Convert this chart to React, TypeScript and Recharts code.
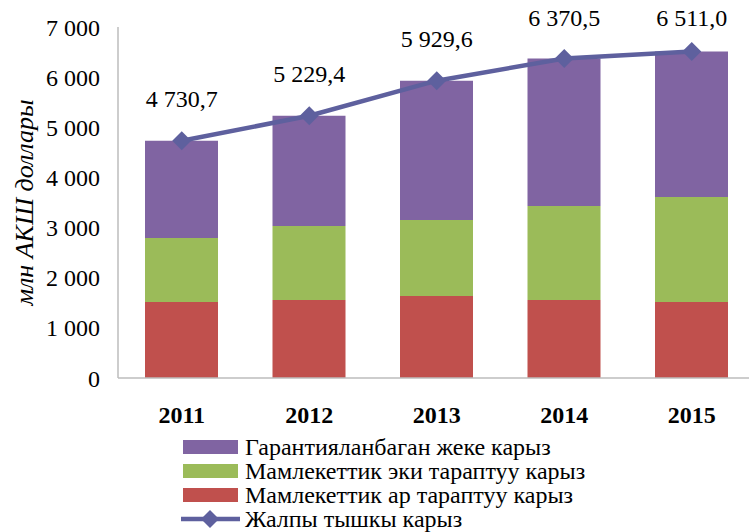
import React from "react"
import { ComposedChart, Bar, Line, XAxis, YAxis, Legend } from "recharts"

const years = ["2011", "2012", "2013", "2014", "2015"]
const multilateral = [1516, 1556, 1635, 1556, 1516]
const bilateral = [1276, 1475, 1516, 1874, 2094]
const privateDebt = [1939, 2198, 2779, 2940, 2901]
const totalDebt = [4730.7, 5229.4, 5929.6, 6370.5, 6511.0]
const yTicks = [0, 1000, 2000, 3000, 4000, 5000, 6000, 7000]

const seriesNames = {
  privateDebt: "Гарантияланбаган жеке карыз",
  bilateral: "Мамлекеттик эки тараптуу карыз",
  multilateral: "Мамлекеттик ар тараптуу карыз",
  total: "Жалпы тышкы карыз",
}

const FONT = '"Liberation Serif", "Times New Roman", serif'
const PURPLE = "#8064A2"
const GREEN = "#9BBB59"
const RED = "#C0504D"
const LINE = "#5E609E"
const AXIS = "#BDBDBD"

const data = years.map((year, i) => ({
  year,
  multilateral: multilateral[i],
  bilateral: bilateral[i],
  privateDebt: privateDebt[i],
  total: totalDebt[i],
}))

const fmtTick = (v: number) => String(v).replace(/\B(?=(\d{3})+(?!\d))/g, " ")
const fmtValue = (v: number) => {
  const [int, dec] = v.toFixed(1).split(".")
  return fmtTick(Number(int)) + "," + dec
}

const Diamond = (props: any) => {
  const { cx, cy } = props
  if (cx == null || cy == null) return null
  const r = 9.5
  return (
    <polygon
      points={`${cx},${cy - r} ${cx + r},${cy} ${cx},${cy + r} ${cx - r},${cy}`}
      fill={LINE}
    />
  )
}

const TotalLabel = (props: any) => {
  const { x, y, value } = props
  const ly = Math.max(y - 42, 18)
  return (
    <text x={x} y={ly} dy="0.35em" textAnchor="middle" fontFamily={FONT} fontSize={24} fill="#000">
      {fmtValue(value)}
    </text>
  )
}

const YTitle = (props: any) => {
  const vb = props.viewBox
  const cx = 24
  const cy = vb.y + vb.height / 2
  return (
    <text
      x={cx}
      y={cy}
      transform={`rotate(-90, ${cx}, ${cy})`}
      textAnchor="middle"
      dominantBaseline="central"
      fontFamily={FONT}
      fontStyle="italic"
      fontSize={26}
      fill="#000"
    >
      млн АКШ доллары
    </text>
  )
}

const LegendBox = () => {
  const rows = [
    { name: seriesNames.privateDebt, color: PURPLE, kind: "bar" },
    { name: seriesNames.bilateral, color: GREEN, kind: "bar" },
    { name: seriesNames.multilateral, color: RED, kind: "bar" },
    { name: seriesNames.total, color: LINE, kind: "line" },
  ]
  return (
    <div style={{ fontFamily: FONT, fontSize: 24, color: "#000" }}>
      {rows.map((r) => (
        <div key={r.name} style={{ display: "flex", alignItems: "center", height: 24, lineHeight: "24px", whiteSpace: "nowrap" }}>
          <svg width={60} height={24} style={{ marginRight: 5, flex: "none" }}>
            {r.kind === "bar" ? (
              <rect x={3} y={5} width={55} height={14} fill={r.color} />
            ) : (
              <g>
                <line x1={1} y1={12} x2={60} y2={12} stroke={r.color} strokeWidth={4.5} />
                <polygon points="30,3 39,12 30,21 21,12" fill={r.color} />
              </g>
            )}
          </svg>
          <span>{r.name}</span>
        </div>
      ))}
    </div>
  )
}

export default function App() {
  return (
    <div style={{ position: "fixed", left: 0, top: 0, width: 749, height: 532, overflow: "hidden", background: "#fff" }}>
      <ComposedChart
        width={770}
        height={532}
        data={data}
        margin={{ top: 27, right: 14.5, bottom: 114, left: 0 }}
        barCategoryGap={0}
      >
        <XAxis
          dataKey="year"
          height={40}
          axisLine={{ stroke: AXIS, strokeWidth: 1.5 }}
          tickLine={false}
          tickMargin={22}
          tick={{ fontFamily: FONT, fontSize: 24, fontWeight: "bold", fill: "#000" }}
        />
        <YAxis
          width={118}
          domain={[0, 7000]}
          ticks={yTicks}
          interval={0}
          axisLine={{ stroke: AXIS, strokeWidth: 1.5 }}
          tickLine={false}
          tickMargin={12}
          tickFormatter={fmtTick}
          tick={{ fontFamily: FONT, fontSize: 24, fill: "#000" }}
          label={<YTitle />}
        />
        <Legend
          layout="vertical"
          align="center"
          verticalAlign="middle"
          wrapperStyle={{ left: 180, top: 435, width: 480 }}
          content={<LegendBox />}
        />
        <Bar dataKey="multilateral" stackId="a" fill={RED} barSize={73} isAnimationActive={false} />
        <Bar dataKey="bilateral" stackId="a" fill={GREEN} barSize={73} isAnimationActive={false} />
        <Bar dataKey="privateDebt" stackId="a" fill={PURPLE} barSize={73} isAnimationActive={false} />
        <Line
          dataKey="total"
          stroke={LINE}
          strokeWidth={4.5}
          dot={<Diamond />}
          activeDot={false}
          label={<TotalLabel />}
          isAnimationActive={false}
        />
      </ComposedChart>
    </div>
  )
}
